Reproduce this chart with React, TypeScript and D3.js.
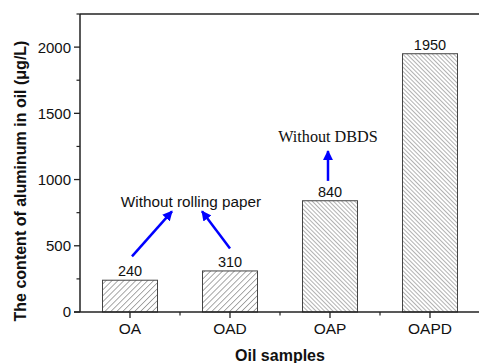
import React, { useRef, useEffect } from "react";
import * as d3 from "d3";

const categories = ["OA", "OAD", "OAP", "OAPD"];
const values = [240, 310, 840, 1950];
const hatch = ["fwd", "fwd", "back", "back"];
const yTicks = [0, 500, 1000, 1500, 2000];
const yMinorTicks = [250, 750, 1250, 1750, 2250];

const W = 479;
const H = 363;
const margin = { left: 80, top: 14, right: -1, bottom: 51 };

const App = () => {
  const svgRef = useRef<SVGSVGElement>(null);

  useEffect(() => {
    const svg = d3.select(svgRef.current);
    svg.selectAll("*").remove();

    const x0 = margin.left;
    const x1 = W - margin.right;
    const y0 = H - margin.bottom;
    const y1 = margin.top;

    const x = d3.scaleBand().domain(categories).range([x0, x1]).paddingInner(0.45).paddingOuter(0.225);
    const y = d3.scaleLinear().domain([0, 2250]).range([y0, y1]);

    const defs = svg.append("defs");
    const fwd = defs
      .append("pattern")
      .attr("id", "fwd")
      .attr("patternUnits", "userSpaceOnUse")
      .attr("width", 4.2)
      .attr("height", 4.2)
      .attr("patternTransform", "rotate(45)");
    fwd.append("rect").attr("width", 4.2).attr("height", 4.2).attr("fill", "#fff");
    fwd.append("line").attr("x1", 0).attr("y1", 0).attr("x2", 0).attr("y2", 4.2)
      .attr("stroke", "#555").attr("stroke-width", 1);
    const back = defs
      .append("pattern")
      .attr("id", "back")
      .attr("patternUnits", "userSpaceOnUse")
      .attr("width", 3)
      .attr("height", 3)
      .attr("patternTransform", "rotate(-45)");
    back.append("rect").attr("width", 3).attr("height", 3).attr("fill", "#fff");
    back.append("line").attr("x1", 0).attr("y1", 0).attr("x2", 0).attr("y2", 3)
      .attr("stroke", "#555").attr("stroke-width", 0.9);

    const arrow = defs
      .append("marker")
      .attr("id", "arr")
      .attr("viewBox", "0 0 10 10")
      .attr("refX", 9)
      .attr("refY", 5)
      .attr("markerWidth", 4)
      .attr("markerHeight", 4)
      .attr("orient", "auto");
    arrow.append("path").attr("d", "M0,0 L10,5 L0,10 z").attr("fill", "#0000ff");

    // bars
    svg
      .selectAll(".bar")
      .data(categories)
      .join("rect")
      .attr("class", "bar")
      .attr("x", (d) => x(d)!)
      .attr("width", x.bandwidth())
      .attr("y", (d, i) => y(values[i]))
      .attr("height", (d, i) => y0 - y(values[i]))
      .attr("fill", (d, i) => `url(#${hatch[i]})`)
      .attr("stroke", "#444")
      .attr("stroke-width", 1);

    svg
      .selectAll(".val")
      .data(categories)
      .join("text")
      .attr("class", "val")
      .attr("x", (d) => x(d)! + x.bandwidth() / 2)
      .attr("y", (d, i) => y(values[i]) - 4)
      .attr("text-anchor", "middle")
      .attr("font-family", "Liberation Sans, Arial, sans-serif")
      .attr("font-size", 14.5)
      .attr("fill", "#111")
      .text((d, i) => values[i]);

    // frame
    const ax = svg.append("g").attr("stroke", "#222").attr("stroke-width", 1.5).attr("fill", "none");
    ax.append("line").attr("x1", x0).attr("x2", x0).attr("y1", y1).attr("y2", y0);
    ax.append("line").attr("x1", x0).attr("x2", x1).attr("y1", y1).attr("y2", y1);
    ax.append("line").attr("x1", x0 - 6).attr("x2", x1).attr("y1", y0).attr("y2", y0);

    // y ticks
    svg
      .selectAll(".ytick")
      .data(yTicks)
      .join("line")
      .attr("x1", x0 - 6)
      .attr("x2", x0)
      .attr("y1", (d) => y(d))
      .attr("y2", (d) => y(d))
      .attr("stroke", "#222")
      .attr("stroke-width", 1.3);
    svg
      .selectAll(".yminor")
      .data(yMinorTicks)
      .join("line")
      .attr("x1", x0 - 3.5)
      .attr("x2", x0)
      .attr("y1", (d) => y(d))
      .attr("y2", (d) => y(d))
      .attr("stroke", "#222")
      .attr("stroke-width", 1.2);
    svg
      .selectAll(".ylab")
      .data(yTicks)
      .join("text")
      .attr("x", x0 - 9)
      .attr("y", (d) => y(d))
      .attr("dy", "0.36em")
      .attr("text-anchor", "end")
      .attr("font-family", "Liberation Sans, Arial, sans-serif")
      .attr("font-size", 15)
      .attr("fill", "#111")
      .text((d) => d);

    // x ticks
    const step = x.step();
    svg
      .selectAll(".xtick")
      .data(categories)
      .join("line")
      .attr("x1", (d) => x(d)! + x.bandwidth() / 2)
      .attr("x2", (d) => x(d)! + x.bandwidth() / 2)
      .attr("y1", y0)
      .attr("y2", y0 + 6)
      .attr("stroke", "#222")
      .attr("stroke-width", 1.3);
    svg
      .selectAll(".xminor")
      .data(categories.slice(1))
      .join("line")
      .attr("x1", (d) => x(d)! + x.bandwidth() / 2 - step / 2)
      .attr("x2", (d) => x(d)! + x.bandwidth() / 2 - step / 2)
      .attr("y1", y0)
      .attr("y2", y0 + 3.5)
      .attr("stroke", "#222")
      .attr("stroke-width", 1.2);
    svg
      .selectAll(".xlab")
      .data(categories)
      .join("text")
      .attr("x", (d) => x(d)! + x.bandwidth() / 2)
      .attr("y", y0 + 22)
      .attr("text-anchor", "middle")
      .attr("font-family", "Liberation Sans, Arial, sans-serif")
      .attr("font-size", 15.5)
      .attr("fill", "#111")
      .text((d) => d);

    // axis titles
    svg
      .append("text")
      .attr("x", (x0 + x1) / 2)
      .attr("y", H - 2)
      .attr("text-anchor", "middle")
      .attr("font-family", "Liberation Sans, Arial, sans-serif")
      .attr("font-weight", "bold")
      .attr("font-size", 16)
      .attr("fill", "#111")
      .text("Oil samples");
    svg
      .append("text")
      .attr("transform", `translate(26,${(y0 + y1) / 2 + 18}) rotate(-90)`)
      .attr("text-anchor", "middle")
      .attr("font-family", "Liberation Sans, Arial, sans-serif")
      .attr("font-weight", "bold")
      .attr("font-size", 16)
      .attr("fill", "#111")
      .text("The content of aluminum in oil (\u03bcg/L)");

    // annotations
    const cx = (c: string) => x(c)! + x.bandwidth() / 2;
    svg
      .append("text")
      .attr("x", (cx("OA") + cx("OAD")) / 2 + 11)
      .attr("y", 207)
      .attr("text-anchor", "middle")
      .attr("font-family", "Liberation Sans, Arial, sans-serif")
      .attr("font-size", 15.3)
      .attr("fill", "#111")
      .text("Without rolling paper");
    svg
      .append("text")
      .attr("x", cx("OAP") - 2)
      .attr("y", 142)
      .attr("text-anchor", "middle")
      .attr("font-family", "Liberation Serif, Times New Roman, serif")
      .attr("font-size", 16.2)
      .attr("fill", "#111")
      .text("Without DBDS");

    const arrows = [
      [cx("OA") + 2, y(420), cx("OA") + 42, y(760)],
      [cx("OAD"), y(480), cx("OAD") - 28, y(760)],
      [cx("OAP") - 2, y(990), cx("OAP") - 2, y(1215)],
    ];
    svg
      .selectAll(".arrow")
      .data(arrows)
      .join("line")
      .attr("x1", (d) => d[0])
      .attr("y1", (d) => d[1])
      .attr("x2", (d) => d[2])
      .attr("y2", (d) => d[3])
      .attr("stroke", "#0000ff")
      .attr("stroke-width", 2.5)
      .attr("marker-end", "url(#arr)");
  }, []);

  return (
    <svg
      ref={svgRef}
      width={W}
      height={H}
      style={{ position: "absolute", left: 0, top: 0, background: "#fff" }}
    ></svg>
  );
};

export default App;
